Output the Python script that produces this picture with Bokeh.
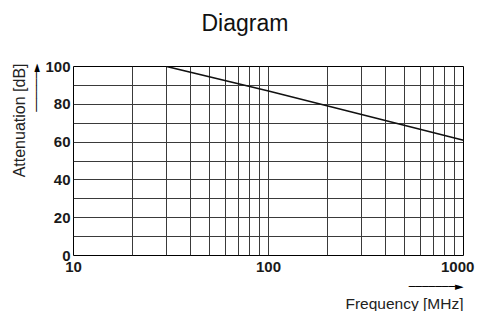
from bokeh.plotting import figure
from bokeh.models import Range1d, FixedTicker, Title
from bokeh.embed import file_html
from bokeh.resources import INLINE

# ---- data ----
freq_mhz = [30, 100, 1000]
attenuation_db = [100, 87, 61]
x_grid_values = [10, 20, 30, 40, 50, 60, 70, 80, 90, 100,
                 200, 300, 400, 500, 600, 700, 800, 900, 1000]
y_grid_values = [0, 10, 20, 30, 40, 50, 60, 70, 80, 90, 100]
y_tick_values = [0, 20, 40, 60, 80, 100]
x_tick_values = [10, 100, 1000]
x_tick_labels = ["10", "100", "1000\u00a0"]
title_text = "Diagram"
x_label = "Frequency [MHz]"
y_label = "Attenuation [dB]"
x_arrow_text = "\u2500" * 7 + "\u25BA"
y_arrow_text = "\u2500" * 6 + "\u25BA"

FONT = "Liberation Sans"

p = figure(width=478, height=311, x_axis_type="log",
           x_range=Range1d(10, 1000), y_range=Range1d(0, 100),
           output_backend="svg", toolbar_location=None,
           min_border_left=73, min_border_right=15,
           min_border_top=66, min_border_bottom=55)

p.outline_line_color = "black"
p.outline_line_width = 1
p.background_fill_color = "white"
p.border_fill_color = "white"

# grids
p.xgrid.ticker = FixedTicker(ticks=x_grid_values)
p.ygrid.ticker = FixedTicker(ticks=y_grid_values)
for g in (p.xgrid, p.ygrid):
    g.grid_line_color = "#3a3a3a"
    g.grid_line_width = 1
    g.grid_line_alpha = 1.0

# axes
for ax in (p.xaxis[0], p.yaxis[0]):
    ax.axis_line_color = None
    ax.major_tick_line_color = None
    ax.minor_tick_line_color = None
    ax.major_tick_out = 0
    ax.major_tick_in = 0
    ax.minor_tick_out = 0
    ax.major_label_text_font = FONT
    ax.major_label_text_font_style = "bold"
    ax.major_label_text_font_size = "15px"
    ax.major_label_text_color = "#1a1a1a"

p.yaxis[0].ticker = FixedTicker(ticks=y_tick_values)
p.yaxis[0].major_label_standoff = 3
p.xaxis[0].ticker = FixedTicker(ticks=x_tick_values)
p.xaxis[0].major_label_standoff = 2
p.xaxis[0].major_label_overrides = {v: t for v, t in zip(x_tick_values, x_tick_labels)}

# curve
p.line(freq_mhz, attenuation_db, line_color="#111111", line_width=1.6)

# title: a spacer next to the frame, then the title text
p.title.text = ""
p.add_layout(Title(text=" ", text_font_size="1px", standoff=28), "above")
p.add_layout(Title(text=title_text, align="left", offset=128,
                   vertical_align="bottom", text_font=FONT,
                   text_font_size="23px", text_font_style="normal",
                   text_color="#111111", standoff=0), "above")

# below: arrow then label
p.add_layout(Title(text=x_arrow_text, align="right", text_font="DejaVu Sans",
                   text_font_size="11px", text_font_style="normal",
                   text_color="black", standoff=0), "below")
p.add_layout(Title(text=x_label, align="right", text_font=FONT,
                   text_font_size="15.5px", text_font_style="normal",
                   text_color="#222222", standoff=0), "below")

# left: arrow then label
p.add_layout(Title(text=y_arrow_text, align="right", offset=-3,
                   text_font="DejaVu Sans",
                   text_font_size="11px", text_font_style="normal",
                   text_color="black", standoff=0), "left")
p.add_layout(Title(text=y_label, align="right", offset=-3, text_font=FONT,
                   text_font_size="16px", text_font_style="normal",
                   text_color="#222222", standoff=0), "left")

open("out.html", "w").write(file_html(p, INLINE))
